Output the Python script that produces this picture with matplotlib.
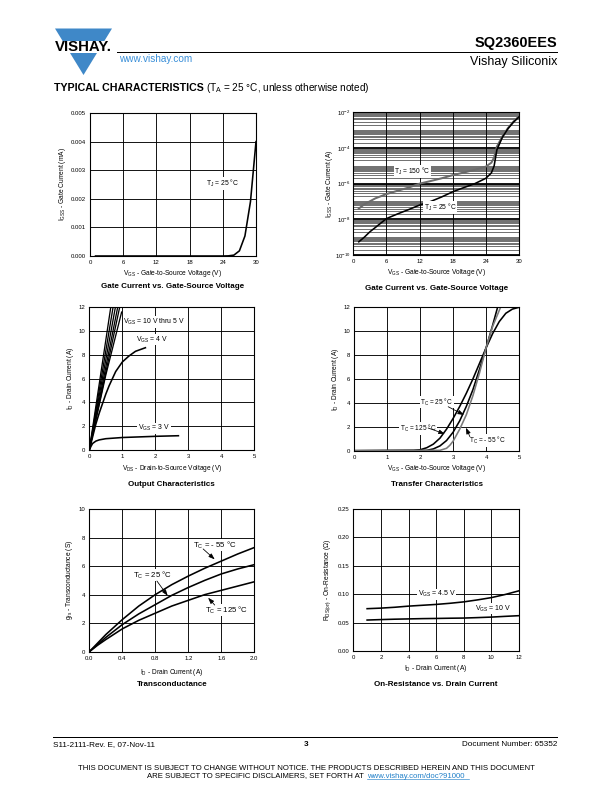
import matplotlib
matplotlib.use("Agg")
import matplotlib.pyplot as plt
from matplotlib.patches import Polygon, Rectangle
from matplotlib.lines import Line2D
from matplotlib.ticker import LogLocator, NullFormatter

plt.rcParams["font.family"] = ["Liberation Sans", "DejaVu Sans"]
plt.rcParams["mathtext.fontset"] = "custom"
plt.rcParams["mathtext.rm"] = "Liberation Sans"
plt.rcParams["mathtext.it"] = "Liberation Sans:italic"
plt.rcParams["mathtext.bf"] = "Liberation Sans:bold"

W, H = 612, 792

# ---------------------------------------------------------------------------
# Data
# ---------------------------------------------------------------------------

# Gate current vs gate-source voltage (linear, mA)
igss_lin_v = [1, 24, 25, 26, 27, 28, 29, 30]
igss_lin_ma = [0, 0, 0.000005, 0.00003, 0.00018, 0.0007, 0.0019, 0.004]

# Gate current vs gate-source voltage (log, A)
igss_v150 = [1, 2, 4, 6, 8, 10, 12, 14, 16, 18, 20, 22, 24, 25, 25.5, 26, 27, 28, 29, 30]
igss_a150 = [4e-8, 7e-8, 1.5e-7, 2.6e-7, 4e-7, 6e-7, 1e-6, 1.4e-6, 2e-6, 3e-6,
             4.2e-6, 6e-6, 9e-6, 1.5e-5, 3e-5, 1.2e-4, 4.5e-4, 1.3e-3, 3e-3, 6e-3]
igss_v25 = [1, 2, 3, 4, 6, 8, 10, 12, 14, 16, 18, 20, 22, 24, 25, 25.5, 26, 27, 28, 29, 30]
igss_a25 = [5.5e-10, 1e-9, 2e-9, 3.5e-9, 1.1e-8, 2e-8, 3.5e-8, 6.3e-8, 1e-7, 1.8e-7,
            3.5e-7, 6e-7, 1e-6, 2e-6, 4e-6, 1e-5, 8e-5, 4e-4, 1.2e-3, 2.8e-3, 5.5e-3]

# Output characteristics
out_vds_hi = [[0, 0.65], [0, 0.72], [0, 0.79], [0, 0.86], [0, 0.92], [0, 0.5, 0.98]]
out_id_hi = [[0, 12], [0, 12], [0, 12], [0, 12], [0, 12], [0, 6.3, 11.6]]
out_vds_4 = [0, 0.1, 0.2, 0.3, 0.4, 0.5, 0.6, 0.8, 1.0, 1.2, 1.4, 1.7]
out_id_4 = [0, 1.1, 2.2, 3.1, 3.9, 4.7, 5.4, 6.6, 7.4, 7.9, 8.3, 8.6]
out_vds_3 = [0, 0.05, 0.1, 0.2, 0.3, 0.5, 1.0, 1.5, 2.0, 2.7]
out_id_3 = [0, 0.3, 0.55, 0.75, 0.85, 0.95, 1.05, 1.1, 1.15, 1.2]

# Transfer characteristics
tr_vgs_125 = [0, 1.8, 2.0, 2.2, 2.4, 2.6, 2.8, 3.0, 3.2, 3.4, 3.6, 3.8, 4.0, 4.2, 4.4, 4.6, 4.8, 5.0]
tr_id_125 = [0, 0.02, 0.08, 0.25, 0.55, 1.05, 1.8, 2.7, 3.7, 4.8, 6.0, 7.3, 8.6, 9.8, 10.8, 11.5, 11.85, 12.0]
tr_vgs_25 = [0, 2.2, 2.4, 2.6, 2.8, 3.0, 3.2, 3.4, 3.6, 3.8, 4.0, 4.2, 4.35]
tr_id_25 = [0, 0.03, 0.15, 0.4, 0.85, 1.55, 2.5, 3.7, 5.1, 6.8, 8.6, 10.5, 12.0]
tr_vgs_m55 = [0, 2.6, 2.8, 2.9, 3.0, 3.2, 3.4, 3.6, 3.8, 4.0, 4.2, 4.44]
tr_id_m55 = [0, 0.03, 0.2, 0.45, 0.8, 1.8, 3.0, 4.6, 6.5, 8.6, 10.4, 12.0]

# Transconductance
gfs_id = [0, 0.1, 0.2, 0.4, 0.6, 0.8, 1.0, 1.2, 1.4, 1.6, 1.8, 2.0]
gfs_m55 = [0, 0.6, 1.2, 2.25, 3.2, 4.0, 4.7, 5.3, 5.85, 6.35, 6.85, 7.3]
gfs_25 = [0, 0.5, 1.0, 1.9, 2.65, 3.3, 3.95, 4.5, 5.0, 5.45, 5.8, 6.1]
gfs_125 = [0, 0.45, 0.85, 1.6, 2.2, 2.7, 3.2, 3.6, 4.0, 4.3, 4.6, 4.9]

# On-resistance vs drain current
ron_id = [1, 2, 3, 4, 5, 6, 7, 8, 9, 10, 11, 12]
ron_45 = [0.0745, 0.0755, 0.077, 0.079, 0.0805, 0.082, 0.084, 0.0865, 0.09, 0.094, 0.0995, 0.106]
ron_10 = [0.0545, 0.0553, 0.056, 0.0565, 0.057, 0.0573, 0.0577, 0.058, 0.0588, 0.0597, 0.061, 0.0622]

TICK_FS = 6.0
LABEL_FS = 6.6
TITLE_FS = 8.0
CURVE_LW = 1.6


# ---------------------------------------------------------------------------
# Helpers
# ---------------------------------------------------------------------------

def fx(x):
    return x / W


def fy(y):
    return 1 - y / H


def make_axes(fig, x0, y0, x1, y1):
    ax = fig.add_axes([fx(x0), fy(y1), (x1 - x0) / W, (y1 - y0) / H])
    for s in ax.spines.values():
        s.set_linewidth(1.1)
        s.set_zorder(5)
    ax.tick_params(length=0, pad=4, labelsize=TICK_FS)
    ax.grid(True, color="black", linewidth=0.9)
    ax.set_axisbelow(True)
    return ax


def frame_text(fig, ax, xlabel, ylabel, title, xlab_y, title_y, ylab_x):
    pos = ax.get_position()
    cx = (pos.x0 + pos.x1) / 2
    cy = (pos.y0 + pos.y1) / 2
    fig.text(cx, fy(xlab_y), xlabel, ha="center", va="center", fontsize=LABEL_FS)
    fig.text(cx, fy(title_y), title, ha="center", va="center",
             fontsize=TITLE_FS, fontweight="bold")
    fig.text(fx(ylab_x), cy, ylabel, ha="center", va="center",
             fontsize=LABEL_FS, rotation=90)


def note(ax, x, y, s, fs, ha="center"):
    ax.text(x, y, s, ha=ha, va="center", fontsize=fs, zorder=6,
            bbox=dict(facecolor="white", edgecolor="none", pad=0.6))


def arrow_note(ax, s, fs, xy_text, xy_from, xy_to):
    note(ax, xy_text[0], xy_text[1], s, fs)
    ax.annotate("", xy=xy_to, xytext=xy_from, zorder=7,
                arrowprops=dict(arrowstyle="-|>,head_length=0.5,head_width=0.18",
                                color="black", lw=0.8, shrinkA=0, shrinkB=0))


fig = plt.figure(figsize=(W / 72, H / 72), dpi=72)

# ---------------------------------------------------------------------------
# Header / footer
# ---------------------------------------------------------------------------

blue = "#3f88c8"
fig.patches.append(Polygon([(fx(55), fy(28.5)), (fx(112), fy(28.5)), (fx(83.5), fy(75))],
                           closed=True, facecolor=blue, edgecolor="none",
                           transform=fig.transFigure, figure=fig))
fig.patches.append(Rectangle((fx(50), fy(53.3)), (116 - 50) / W, 12.6 / H,
                             facecolor="white", edgecolor="none",
                             transform=fig.transFigure, figure=fig))
fig.text(fx(83), fy(47.2), "VISHAY.", ha="center", va="center",
         fontsize=15, fontweight="bold")
fig.lines.append(Line2D([fx(117), fx(557)], [fy(52.3), fy(52.3)], color="black",
                        lw=1.0, transform=fig.transFigure))
fig.text(fx(557), fy(47.5), "SQ2360EES", ha="right", va="baseline",
         fontsize=14.5, fontweight="bold")
fig.text(fx(557), fy(65.5), "Vishay Siliconix", ha="right", va="baseline", fontsize=12.5)
fig.text(fx(119), fy(62), "www.vishay.com", ha="left", va="baseline",
         fontsize=10, color="#3a8fd8")
fig.text(fx(54), fy(91), "TYPICAL CHARACTERISTICS", ha="left", va="baseline",
         fontsize=10.6, fontweight="bold")
fig.text(fx(206), fy(91), r"(T$_\mathrm{A}$ = 25 °C, unless otherwise noted)",
         ha="left", va="baseline", fontsize=10)

fig.lines.append(Line2D([fx(53), fx(557)], [fy(737.3), fy(737.3)], color="black",
                        lw=1.0, transform=fig.transFigure))
fig.text(fx(53), fy(746.5), "S11-2111-Rev. E, 07-Nov-11", ha="left", va="baseline", fontsize=8.1)
fig.text(fx(306), fy(746.5), "3", ha="center", va="baseline", fontsize=8.1, fontweight="bold")
fig.text(fx(557), fy(746.5), "Document Number: 65352", ha="right", va="baseline", fontsize=8.1)
fig.text(fx(306), fy(769.5),
         "THIS DOCUMENT IS SUBJECT TO CHANGE WITHOUT NOTICE. THE PRODUCTS DESCRIBED HEREIN AND THIS DOCUMENT",
         ha="center", va="baseline", fontsize=7.8)
fig.text(fx(366), fy(777.5), "ARE SUBJECT TO SPECIFIC DISCLAIMERS, SET FORTH AT ",
         ha="right", va="baseline", fontsize=7.8)
fig.text(fx(367), fy(777.5), "www.vishay.com/doc?91000", ha="left", va="baseline",
         fontsize=7.8, color="#1f7fc8")
fig.lines.append(Line2D([fx(367), fx(469)], [fy(779), fy(779)], color="#1f7fc8",
                        lw=0.6, transform=fig.transFigure))

# ---------------------------------------------------------------------------
# 1. Gate current (linear)
# ---------------------------------------------------------------------------

ax1 = make_axes(fig, 90, 113, 256, 256)
ax1.plot(igss_lin_v, igss_lin_ma, color="black", lw=CURVE_LW, zorder=4)
ax1.set_xlim(0, 30)
ax1.set_ylim(0, 0.005)
ax1.set_xticks([0, 6, 12, 18, 24, 30])
ax1.set_yticks([0, 0.001, 0.002, 0.003, 0.004, 0.005])
ax1.set_yticklabels(["0.000", "0.001", "0.002", "0.003", "0.004", "0.005"])
note(ax1, 24.0, 0.00254, r"T$_\mathrm{J}$ = 25 °C", 6.8)
frame_text(fig, ax1, r"V$_\mathrm{GS}$ - Gate-to-Source Voltage (V)",
           r"I$_\mathrm{GSS}$ - Gate Current (mA)",
           "Gate Current vs. Gate-Source Voltage", 273.5, 286.5, 63)

# ---------------------------------------------------------------------------
# 2. Gate current (log)
# ---------------------------------------------------------------------------

ax2 = make_axes(fig, 353.3, 112.3, 519, 255)
ax2.set_yscale("log")
ax2.plot(igss_v150, igss_a150, color="#6b6b6b", lw=2.0, zorder=4)
ax2.plot(igss_v25, igss_a25, color="black", lw=CURVE_LW, zorder=4)
ax2.set_xlim(0, 30)
ax2.set_ylim(1e-10, 1e-2)
ax2.set_xticks([0, 6, 12, 18, 24, 30])
ax2.set_yticks([1e-10, 1e-8, 1e-6, 1e-4, 1e-2])
ax2.set_yticklabels([r"10$^{-10}$", r"10$^{-8}$", r"10$^{-6}$", r"10$^{-4}$", r"10$^{-2}$"])
ax2.yaxis.set_minor_locator(LogLocator(base=10, subs=range(1, 10), numticks=100))
ax2.yaxis.set_minor_formatter(NullFormatter())
ax2.tick_params(which="minor", length=0)
ax2.tick_params(axis="y", pad=3)
ax2.grid(True, which="major", axis="y", color="black", linewidth=1.8)
ax2.grid(True, which="minor", axis="y", color="black", linewidth=0.55)
note(ax2, 10.7, 4.7e-6, r"T$_\mathrm{J}$ = 150 °C", 6.6)
note(ax2, 15.7, 4.7e-8, r"T$_\mathrm{J}$ = 25 °C", 6.6)
frame_text(fig, ax2, r"V$_\mathrm{GS}$ - Gate-to-Source Voltage (V)",
           r"I$_\mathrm{GSS}$ - Gate Current (A)",
           "Gate Current vs. Gate-Source Voltage", 272, 288.5, 329.5)

# ---------------------------------------------------------------------------
# 3. Output characteristics
# ---------------------------------------------------------------------------

ax3 = make_axes(fig, 89.3, 307.3, 254.3, 450)
for xs, ys in zip(out_vds_hi, out_id_hi):
    ax3.plot(xs, ys, color="black", lw=1.3, zorder=4)
ax3.plot(out_vds_4, out_id_4, color="black", lw=CURVE_LW, zorder=4)
ax3.plot(out_vds_3, out_id_3, color="black", lw=CURVE_LW, zorder=4)
ax3.set_xlim(0, 5)
ax3.set_ylim(0, 12)
ax3.set_xticks(range(0, 6))
ax3.set_yticks(range(0, 13, 2))
note(ax3, 1.03, 10.75, r"V$_\mathrm{GS}$ = 10 V thru 5 V", 6.9, ha="left")
note(ax3, 1.91, 9.29, r"V$_\mathrm{GS}$ = 4 V", 6.9)
note(ax3, 1.96, 1.82, r"V$_\mathrm{GS}$ = 3 V", 6.9)
frame_text(fig, ax3, r"V$_\mathrm{DS}$ - Drain-to-Source Voltage (V)",
           r"I$_\mathrm{D}$ - Drain Current (A)",
           "Output Characteristics", 469, 485, 70)

# ---------------------------------------------------------------------------
# 4. Transfer characteristics
# ---------------------------------------------------------------------------

ax4 = make_axes(fig, 354.3, 307.3, 519, 450.7)
ax4.plot(tr_vgs_125, tr_id_125, color="black", lw=CURVE_LW, zorder=4)
ax4.plot(tr_vgs_25, tr_id_25, color="black", lw=CURVE_LW, zorder=4)
ax4.plot(tr_vgs_m55, tr_id_m55, color="#7a7a7a", lw=CURVE_LW, zorder=4)
ax4.set_xlim(0, 5)
ax4.set_ylim(0, 12)
ax4.set_xticks(range(0, 6))
ax4.set_yticks(range(0, 13, 2))
arrow_note(ax4, r"T$_\mathrm{C}$ = 25 °C", 6.5, (2.50, 4.05), (2.85, 3.68), (3.33, 2.99))
arrow_note(ax4, r"T$_\mathrm{C}$ = 125 °C", 6.5, (1.94, 1.87), (2.24, 1.9), (2.75, 1.40))
arrow_note(ax4, r"T$_\mathrm{C}$ = - 55 °C", 6.5, (4.04, 0.84), (3.51, 1.17), (3.39, 1.92))
frame_text(fig, ax4, r"V$_\mathrm{GS}$ - Gate-to-Source Voltage (V)",
           r"I$_\mathrm{D}$ - Drain Current (A)",
           "Transfer Characteristics", 468.5, 485, 335)

# ---------------------------------------------------------------------------
# 5. Transconductance
# ---------------------------------------------------------------------------

ax5 = make_axes(fig, 89.3, 509, 254.3, 651.7)
ax5.plot(gfs_id, gfs_m55, color="black", lw=CURVE_LW, zorder=4)
ax5.plot(gfs_id, gfs_25, color="black", lw=CURVE_LW, zorder=4)
ax5.plot(gfs_id, gfs_125, color="black", lw=CURVE_LW, zorder=4)
ax5.set_xlim(0, 2.0)
ax5.set_ylim(0, 10)
ax5.set_xticks([0, 0.4, 0.8, 1.2, 1.6, 2.0])
ax5.set_xticklabels(["0.0", "0.4", "0.8", "1.2", "1.6", "2.0"])
ax5.set_yticks(range(0, 11, 2))
arrow_note(ax5, r"T$_\mathrm{C}$ = - 55 °C", 7.8, (1.52, 7.48), (1.38, 7.2), (1.52, 6.47))
arrow_note(ax5, r"T$_\mathrm{C}$ = 25 °C", 7.8, (0.77, 5.37), (0.82, 4.95), (0.95, 3.92))
arrow_note(ax5, r"T$_\mathrm{C}$ = 125 °C", 7.8, (1.67, 2.92), (1.52, 3.27), (1.44, 3.78))
frame_text(fig, ax5, r"I$_\mathrm{D}$ - Drain Current (A)",
           r"g$_\mathrm{fs}$ - Transconductance (S)",
           "Transconductance", 673, 684, 69.5)

# ---------------------------------------------------------------------------
# 6. On-resistance vs drain current
# ---------------------------------------------------------------------------

ax6 = make_axes(fig, 353.3, 509, 519, 651)
ax6.plot(ron_id, ron_45, color="black", lw=CURVE_LW, zorder=4)
ax6.plot(ron_id, ron_10, color="black", lw=CURVE_LW, zorder=4)
ax6.set_xlim(0, 12)
ax6.set_ylim(0, 0.25)
ax6.set_xticks(range(0, 13, 2))
ax6.set_yticks([0, 0.05, 0.10, 0.15, 0.20, 0.25])
ax6.set_yticklabels(["0.00", "0.05", "0.10", "0.15", "0.20", "0.25"])
note(ax6, 6.04, 0.0998, r"V$_\mathrm{GS}$ = 4.5 V", 7.0)
note(ax6, 10.14, 0.075, r"V$_\mathrm{GS}$ = 10 V", 7.0)
frame_text(fig, ax6, r"I$_\mathrm{D}$ - Drain Current (A)",
           r"R$_\mathrm{DS(on)}$ - On-Resistance (Ω)",
           "On-Resistance vs. Drain Current", 668, 684, 327.5)

fig.savefig("out.png", dpi=72)
